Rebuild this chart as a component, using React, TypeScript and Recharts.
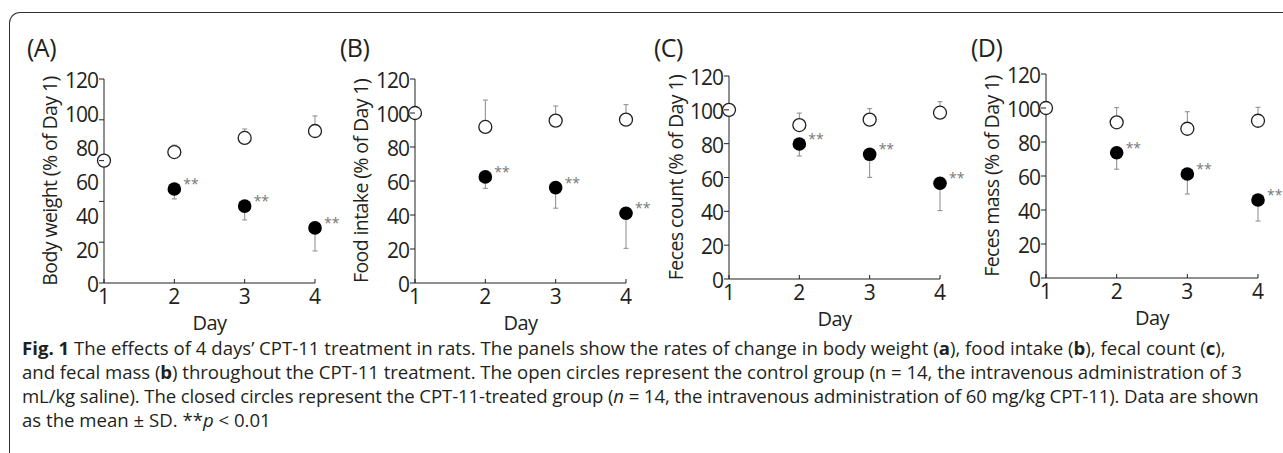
import React from "react";
import { ScatterChart, Scatter, XAxis, YAxis, ErrorBar } from "recharts";

const days = [1, 2, 3, 4];
const cptDays = [2, 3, 4];

// (A) body weight: plotted on its real 40-140 scale, but the printed labels say 0-120
const bodyCtrl = [100, 104.2, 111.1, 114.5];
const bodyCtrlSd = [0, 3.4, 4.4, 7.4];
const bodyCpt = [86.1, 77.7, 67];
const bodyCptSd = [4.9, 6.8, 11.3];
const bodyTicks = [40, 60, 80, 100, 120, 140];

// (B) food intake
const foodCtrl = [100, 91.8, 95.5, 96.1];
const foodCtrlSd = [0, 15.8, 8.6, 8.8];
const foodCpt = [62.4, 56.1, 41];
const foodCptSd = [6.7, 12.1, 20.6];

// (C) feces count
const countCtrl = [100, 91, 94.2, 98.3];
const countCtrlSd = [0, 7.1, 6.5, 6.5];
const countCpt = [79.8, 73.7, 56.6];
const countCptSd = [7.1, 13.6, 16.2];

// (D) feces mass
const massCtrl = [100, 91.6, 87.8, 92.5];
const massCtrlSd = [0, 8.6, 10, 7.9];
const massCpt = [73.7, 61.2, 45.9];
const massCptSd = [9.7, 11.8, 12.4];

const pctTicks = [0, 20, 40, 60, 80, 100, 120];
const tickLabels = ["0", "20", "40", "60", "80", "100", "120"];

const INK = "#231f20";
const FONT = "'Open Sans', sans-serif";

interface Panel {
  letter: string;
  title: string;
  ctrl: number[];
  ctrlSd: number[];
  cpt: number[];
  cptSd: number[];
  domain: [number, number];
  lineTicks: number[];
  left: number;
  width: number;
  top: number;
  bottom: number;
  yAxisX: number;
  titleX: number;
  letterX: number;
}

const panels: Panel[] = [
  { letter: "(A)", title: "Body weight (% of Day 1)", ctrl: bodyCtrl, ctrlSd: bodyCtrlSd, cpt: bodyCpt, cptSd: bodyCptSd, domain: [40, 140], lineTicks: bodyTicks, left: 0, width: 315, top: 79, bottom: 283, yAxisX: 104, titleX: 49, letterX: 27 },
  { letter: "(B)", title: "Food intake (% of Day 1)", ctrl: foodCtrl, ctrlSd: foodCtrlSd, cpt: foodCpt, cptSd: foodCptSd, domain: [0, 120], lineTicks: pctTicks, left: 320, width: 306, top: 79, bottom: 283, yAxisX: 95, titleX: 40, letterX: 340 },
  { letter: "(C)", title: "Feces count (% of Day 1)", ctrl: countCtrl, ctrlSd: countCtrlSd, cpt: countCpt, cptSd: countCptSd, domain: [0, 120], lineTicks: pctTicks, left: 640, width: 300, top: 76, bottom: 279, yAxisX: 89, titleX: 35, letterX: 654 },
  { letter: "(D)", title: "Feces mass (% of Day 1)", ctrl: massCtrl, ctrlSd: massCtrlSd, cpt: massCpt, cptSd: massCptSd, domain: [0, 120], lineTicks: pctTicks, left: 960, width: 298, top: 74, bottom: 278, yAxisX: 86, titleX: 31, letterX: 971 },
];

const near = (a: number, b: number) => Math.abs(a - b) < 1e-6;

const OpenDot = (props: any) => (
  <circle cx={props.cx} cy={props.cy} r={6.5} fill="#fff" stroke={INK} strokeWidth={1.3} />
);

const FilledDot = (props: any) => (
  <g>
    <circle cx={props.cx} cy={props.cy} r={6.8} fill="#000" />
    <text x={props.cx + 9} y={props.cy} fontSize={14} fill="#777" fontFamily={FONT}>
      **
    </text>
  </g>
);

const ChartPanel = ({ p }: { p: Panel }) => {
  const ctrlRows = days.map((d, i) => ({ day: d, value: p.ctrl[i], err: [0, p.ctrlSd[i]] }));
  const cptRows = cptDays.map((d, i) => ({ day: d, value: p.cpt[i], err: [p.cptSd[i], 0] }));
  // printed labels are spread evenly over the axis, whatever its real scale
  const step = (p.domain[1] - p.domain[0]) / (tickLabels.length - 1);
  const labelPos = tickLabels.map((_, i) => p.domain[0] + i * step);
  const allTicks = Array.from(new Set([...p.lineTicks, ...labelPos])).sort((a, b) => a - b);
  const height = 340;
  const xAxisH = 50;
  const rightPad = 34;

  const YTick = (props: any) => {
    const v = props.payload.value;
    const li = labelPos.findIndex((t) => near(t, v));
    return (
      <g>
        {p.lineTicks.some((t) => near(t, v)) && (
          <line x1={props.x - 5} x2={props.x} y1={props.y} y2={props.y} stroke={INK} />
        )}
        {li >= 0 && (
          <text x={props.x - 6} y={props.y + 1} textAnchor="end" dominantBaseline="central" fontSize={21} letterSpacing={-1} fill={INK} fontFamily={FONT}>
            {tickLabels[li]}
          </text>
        )}
      </g>
    );
  };

  const XTick = (props: any) => (
    <g>
      <line x1={props.x} x2={props.x} y1={props.y - 4} y2={props.y} stroke={INK} />
      <text x={props.x} y={props.y + 3} textAnchor="middle" dominantBaseline="hanging" fontSize={21} fill={INK} fontFamily={FONT}>
        {props.payload.value}
      </text>
    </g>
  );

  return (
    <div style={{ position: "absolute", left: p.left, top: 0 }}>
      <ScatterChart
        width={p.width + rightPad}
        height={height}
        margin={{ top: p.top, right: rightPad, bottom: height - p.bottom - xAxisH, left: p.yAxisX - 60 }}
      >
        <XAxis
          type="number"
          dataKey="day"
          domain={[1, 4]}
          ticks={days}
          interval={0}
          height={xAxisH}
          tickSize={0}
          tickMargin={0}
          tickLine={false}
          tick={<XTick />}
          axisLine={{ stroke: INK, strokeWidth: 1 }}
          label={{
            content: (lp: any) => (
              <text x={lp.viewBox.x + lp.viewBox.width / 2} y={lp.viewBox.y + 39} textAnchor="middle" dominantBaseline="central" fontSize={20} letterSpacing={-0.5} fill={INK} fontFamily={FONT}>
                Day
              </text>
            ),
          }}
        />
        <YAxis
          type="number"
          dataKey="value"
          domain={p.domain}
          ticks={allTicks}
          interval={0}
          width={60}
          tickSize={0}
          tickMargin={0}
          tickLine={false}
          tick={<YTick />}
          axisLine={{ stroke: INK, strokeWidth: 1 }}
          label={{
            content: (lp: any) => {
              const cy = lp.viewBox.y + lp.viewBox.height / 2;
              return (
                <text x={p.titleX} y={cy} transform={`rotate(-90 ${p.titleX} ${cy})`} textAnchor="middle" dominantBaseline="central" fontSize={19.5} letterSpacing={-0.6} fill={INK} fontFamily={FONT}>
                  {p.title}
                </text>
              );
            },
          }}
        />
        <Scatter data={ctrlRows} shape={OpenDot} isAnimationActive={false}>
          <ErrorBar dataKey="err" direction="y" width={2.5} stroke="#8a8a8a" strokeWidth={1} />
        </Scatter>
        <Scatter data={cptRows} shape={FilledDot} isAnimationActive={false}>
          <ErrorBar dataKey="err" direction="y" width={2.5} stroke="#8a8a8a" strokeWidth={1} />
        </Scatter>
      </ScatterChart>
    </div>
  );
};

export default function App() {
  return (
    <div style={{ position: "fixed", left: 0, top: 0, width: 1283, height: 453, overflow: "hidden", background: "#fff", fontFamily: FONT, color: INK }}>
      <div
        style={{
          position: "absolute",
          left: 9,
          top: 12,
          width: 1400,
          height: 600,
          borderTop: "1.6px solid #333",
          borderLeft: "1.6px solid #333",
          borderTopLeftRadius: 11,
        }}
      />
      {panels.map((p) => (
        <ChartPanel key={p.letter} p={p} />
      ))}
      {panels.map((p) => (
        <div key={"l" + p.letter} style={{ position: "absolute", left: p.letterX, top: 32, fontSize: 25, lineHeight: "30px", letterSpacing: -0.5 }}>
          {p.letter}
        </div>
      ))}
      <div style={{ position: "absolute", left: 22, top: 336, fontSize: 18.6, lineHeight: "24px", whiteSpace: "nowrap" }}>
        <div>
          <b>Fig. 1</b> The effects of 4 days’ CPT-11 treatment in rats. The panels show the rates of change in body weight (<b>a</b>), food intake (<b>b</b>), fecal count (<b>c</b>),
        </div>
        <div style={{ letterSpacing: -0.04 }}>
          and fecal mass (<b>b</b>) throughout the CPT-11 treatment. The open circles represent the control group (n = 14, the intravenous administration of 3
        </div>
        <div style={{ letterSpacing: -0.12 }}>
          mL/kg saline). The closed circles represent the CPT-11-treated group (<i>n</i> = 14, the intravenous administration of 60 mg/kg CPT-11). Data are shown
        </div>
        <div>
          as the mean ± SD. **<i>p</i> &lt; 0.01
        </div>
      </div>
    </div>
  );
}
